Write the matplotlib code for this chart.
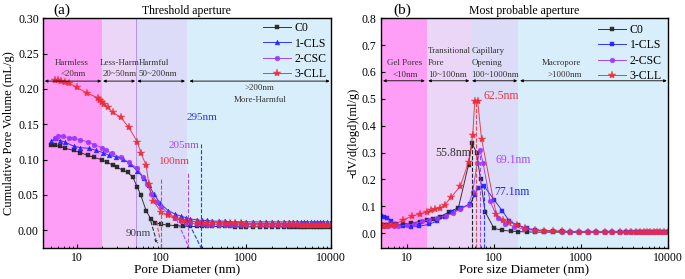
import numpy as np
import matplotlib
matplotlib.use('Agg')
import matplotlib.pyplot as plt

plt.rcParams['font.family'] = ['Liberation Serif', 'DejaVu Serif']
plt.rcParams['mathtext.fontset'] = 'stix'

# ---- (a) cumulative pore volume ----
tail_x = [220, 260, 300, 350, 400, 480, 560, 650, 750, 870, 1000, 1200, 1450, 1700, 2000,
          2400, 2800, 3200, 3600, 4000, 4400, 4800, 5300, 5800, 6300, 6900, 7500, 8200, 9000, 10000]

c0_x = [5.0, 5.5, 6.3, 7.3, 9.2, 11, 13.5, 16, 19.7, 23, 27, 30, 35, 40, 46, 52, 57, 66, 75, 84, 100,
        120, 150, 180] + tail_x
c0_y = [0.121, 0.120, 0.119, 0.116, 0.113, 0.110, 0.106, 0.103, 0.100, 0.096, 0.092, 0.089, 0.085,
        0.082, 0.075, 0.061, 0.050, 0.028, 0.016, 0.011, 0.0085, 0.0075, 0.0065, 0.006] + [0.0055] * 8 + [0.005] * 22

cls_x = [5.0, 5.5, 6.3, 7.2, 9.2, 11, 14, 17, 20.4, 24, 29, 35, 43, 52, 62, 71, 81, 97, 120, 145,
         170, 195] + tail_x
cls_y = [0.126, 0.130, 0.127, 0.125, 0.119, 0.117, 0.116, 0.113, 0.110, 0.106, 0.104, 0.101, 0.094,
         0.084, 0.074, 0.064, 0.052, 0.038, 0.028, 0.023, 0.020, 0.018] + [0.016, 0.015, 0.014, 0.014, 0.013, 0.013, 0.013, 0.012, 0.012, 0.012] + [0.012] * 20

csc_x = [5.5, 6.0, 6.8, 8.0, 9.2, 11, 13.6, 16, 19.7, 22, 26, 33, 41, 52, 60, 68, 76, 88, 100, 120,
         145, 170, 195] + tail_x
csc_y = [0.131, 0.134, 0.133, 0.131, 0.130, 0.128, 0.125, 0.121, 0.117, 0.113, 0.109, 0.103, 0.096,
         0.088, 0.076, 0.065, 0.052, 0.040, 0.033, 0.024, 0.018, 0.013, 0.011] + [0.010, 0.009, 0.009, 0.008, 0.008] + [0.008] * 25

cll_x = [5.5, 6.0, 6.5, 7.2, 8.0, 10, 13.3, 18, 19, 20, 21, 23.3, 26.5, 33, 41, 52, 57, 66, 71, 79,
         100, 120, 145, 170, 195] + tail_x
cll_y = [0.212, 0.212, 0.211, 0.210, 0.209, 0.202, 0.194, 0.187, 0.184, 0.181, 0.179, 0.174, 0.167,
         0.160, 0.146, 0.125, 0.110, 0.092, 0.066, 0.042, 0.026, 0.021, 0.017, 0.015, 0.013] + [0.012, 0.012, 0.011, 0.011, 0.011, 0.010, 0.010, 0.010, 0.010, 0.010] + [0.009] * 10 + [0.008] * 10

# ---- (b) pore size distribution ----
b_tail_x = [300, 380, 480, 600, 750, 950, 1200, 1500, 1900, 2300, 2800, 3300, 3800, 4300, 4800,
            5300, 5800, 6300, 6900, 7500, 8200, 9000, 10000]
b_tail = [0.012, 0.010, 0.008, 0.007, 0.006, 0.005, 0.005, 0.004] + [0.004] * 15

b_c0_x = [5.0, 5.5, 6.0, 7.0, 9.0, 11, 14, 17, 20, 24, 30, 39, 51, 55.8, 63, 70, 79, 100, 125, 155, 190, 240] + b_tail_x
b_c0_y = [0.030, 0.030, 0.030, 0.031, 0.034, 0.038, 0.043, 0.048, 0.053, 0.062, 0.078, 0.095, 0.255,
          0.335, 0.300, 0.200, 0.080, 0.018, 0.011, 0.008, 0.006, 0.005] + [0.004] * 23

b_cls_x = [5.0, 5.5, 5.9, 6.6, 7.4, 9.0, 11, 13.7, 17.8, 22, 27, 33, 42, 53, 60, 66, 77.1, 100, 125, 150, 190, 240] + b_tail_x
b_cls_y = [0.063, 0.062, 0.058, 0.046, 0.034, 0.026, 0.025, 0.026, 0.033, 0.045, 0.062, 0.078, 0.095,
           0.108, 0.144, 0.168, 0.175, 0.125, 0.083, 0.045, 0.030, 0.018] + b_tail

b_csc_x = [5.0, 5.5, 6.0, 7.0, 7.8, 10, 12, 15, 18, 22, 28, 34, 41, 51, 57, 64, 69.1, 75, 90, 110, 135, 170, 220] + b_tail_x
b_csc_y = [0.026, 0.026, 0.027, 0.027, 0.026, 0.030, 0.034, 0.044, 0.050, 0.057, 0.065, 0.075, 0.090,
           0.105, 0.155, 0.260, 0.310, 0.260, 0.120, 0.055, 0.035, 0.025, 0.015] + [0.010, 0.008, 0.007, 0.006, 0.005] + [0.004] * 18

b_cll_x = [5.0, 5.3, 5.7, 6.2, 6.7, 7.2, 9.0, 11.5, 14, 17, 19, 21, 24, 27, 32, 41, 51, 57, 60, 65, 72, 106, 128, 150, 185, 230] + b_tail_x
b_cll_y = [0.028, 0.028, 0.028, 0.029, 0.030, 0.031, 0.050, 0.064, 0.072, 0.080, 0.085, 0.090, 0.095,
           0.105, 0.133, 0.175, 0.265, 0.365, 0.490, 0.490, 0.350, 0.070, 0.050, 0.040, 0.030, 0.018] + [0.012, 0.010, 0.008, 0.007, 0.006, 0.005, 0.005, 0.004] + [0.004] * 15

labels = ['C0', '1-CLS', '2-CSC', '3-CLL']
colors = ['#222222', '#1f1fff', '#9933ff', '#ee2a3a']
markers_a = ['s', '^', 'o', '*']
markers_b = ['s', 's', 'o', '*']

band_colors = ['#ff9ef7', '#ecd6f7', '#dcdcf8', '#d8eefa']

fig = plt.figure(figsize=(6.85, 2.79), dpi=100)
ax1 = fig.add_axes([0.0628, 0.111, 0.420, 0.824])
ax2 = fig.add_axes([0.556, 0.111, 0.419, 0.824])


def style_axis(ax):
    ax.set_xscale('log')
    ax.tick_params(direction='in', which='both', labelsize=8.5, pad=3)
    ax.tick_params(which='major', length=3)
    ax.tick_params(which='minor', length=1.8)
    for s in ax.spines.values():
        s.set_linewidth(1.0)
    ax.xaxis.set_major_formatter(matplotlib.ticker.FuncFormatter(lambda v, p: '%d' % v))


def draw_series(ax, data, markers):
    for (x, y), lab, c, m in zip(data, labels, colors, markers):
        ms = 6 if m == '*' else 3.5
        ax.plot(x, y, marker=m, color=c, markersize=ms, linewidth=0.7, label=lab,
                markerfacecolor=c, markeredgewidth=0.3, alpha=0.9)


def double_arrow(ax, x0, x1, y):
    ax.annotate('', xy=(x0, y), xytext=(x1, y),
                arrowprops=dict(arrowstyle='<|-|>', color='black', lw=0.6,
                                mutation_scale=4, shrinkA=0, shrinkB=0))


fs = 6.4
tc = '#333333'

# ---- panel (a) ----
edges_a = [4, 20, 50, 200, 10000]
for i in range(4):
    ax1.axvspan(edges_a[i], edges_a[i + 1], color=band_colors[i], lw=0, zorder=0)
ax1.axvline(50, color='#b088ee', lw=0.6, zorder=0.5)
draw_series(ax1, [(c0_x, c0_y), (cls_x, cls_y), (csc_x, csc_y), (cll_x, cll_y)], markers_a)
style_axis(ax1)
ax1.set_xlim(4, 10000)
ax1.set_ylim(-0.025, 0.30)
ax1.set_yticks([0.0, 0.05, 0.10, 0.15, 0.20, 0.25, 0.30])
ax1.yaxis.set_major_formatter(matplotlib.ticker.FormatStrFormatter('%.2f'))
ax1.set_xlabel('Pore Diameter (nm)', fontsize=9.5, labelpad=0)
ax1.set_ylabel('Cumulative Pore Volume (mL/g)', fontsize=9, labelpad=2)
ax1.set_title('Threshold aperture', fontsize=8.5, pad=3)
fig.text(0.091, 0.965, '(a)', fontsize=11, ha='center', va='center')

ya = 0.211
double_arrow(ax1, 4.2, 19.5, ya)
double_arrow(ax1, 20.5, 49, ya)
double_arrow(ax1, 52, 190, ya)
double_arrow(ax1, 215, 9700, ya)
ax1.text(8.7, 0.236, 'Harmless', fontsize=fs, ha='center', va='center', color=tc)
ax1.text(9.0, 0.221, '<20nm', fontsize=fs, ha='center', va='center', color=tc)
ax1.text(32, 0.236, 'Less-Harm', fontsize=fs, ha='center', va='center', color=tc)
ax1.text(32, 0.221, '20~50nm', fontsize=fs, ha='center', va='center', color=tc)
ax1.text(54, 0.236, 'Harmful', fontsize=fs, ha='left', va='center', color=tc)
ax1.text(54, 0.221, '50~200nm', fontsize=fs, ha='left', va='center', color=tc)
ax1.text(1450, 0.201, '>200nm', fontsize=fs, ha='center', va='center', color=tc)
ax1.text(1450, 0.184, 'More-Harmful', fontsize=fs, ha='center', va='center', color=tc)

ax1.plot([295, 295], [-0.025, 0.122], ls='--', color='#3333ff', lw=0.8)
ax1.plot([205, 205], [-0.025, 0.083], ls='--', color='#aa44ff', lw=0.8)
ax1.plot([100, 100], [-0.025, 0.072], ls='--', color='#ee4455', lw=0.8)
ax1.plot([150, 213], [0.016, -0.025], ls='--', color='#aa44ff', lw=0.8)
ax1.plot([200, 295], [0.016, -0.025], ls='--', color='#3333ff', lw=0.8)
ax1.plot([75, 86], [0.013, -0.012], ls='--', color='#333333', lw=0.8)
ax1.plot([88, 96], [0.012, -0.012], ls='--', color='#ee4455', lw=0.8)
ax1.text(300, 0.160, '295nm', fontsize=8, color='#3333ff', ha='center', va='center')
ax1.text(186, 0.120, '205nm', fontsize=8, color='#aa44ff', ha='center', va='center')
ax1.text(94, 0.098, '100nm', fontsize=8, color='#ee3344', ha='left', va='center')
ax1.text(76, -0.0045, '90nm', fontsize=8, color='#444444', ha='right', va='center')
ax1.annotate('', xy=(79, -0.009), xytext=(95, -0.021),
             arrowprops=dict(arrowstyle='-|>', color='#333333', lw=0.5, mutation_scale=4))

ax1.legend(loc='upper right', fontsize=8.5, frameon=False, handlelength=2.4,
           handletextpad=0.3, labelspacing=0.28, borderaxespad=0.1, borderpad=0.25)

# ---- panel (b) ----
edges_b = [5, 17, 54, 190, 10000]
for i in range(4):
    ax2.axvspan(edges_b[i], edges_b[i + 1], color=band_colors[i], lw=0, zorder=0)
draw_series(ax2, [(b_c0_x, b_c0_y), (b_cls_x, b_cls_y), (b_csc_x, b_csc_y), (b_cll_x, b_cll_y)], markers_b)
style_axis(ax2)
ax2.set_xlim(5, 10000)
ax2.set_ylim(-0.055, 0.80)
ax2.set_yticks(np.arange(0, 0.81, 0.1))
ax2.yaxis.set_major_formatter(matplotlib.ticker.FormatStrFormatter('%.1f'))
ax2.set_xlabel('Pore size Diameter (nm)', fontsize=9.5, labelpad=0)
ax2.set_ylabel('-dV/d(logd)(ml/g)', fontsize=9, labelpad=2)
ax2.set_title('Most probable aperture', fontsize=8.5, pad=3)
fig.text(0.587, 0.965, '(b)', fontsize=11, ha='center', va='center')

yb = 0.567
double_arrow(ax2, 5.3, 16, yb)
double_arrow(ax2, 17.5, 52, yb)
double_arrow(ax2, 56, 185, yb)
double_arrow(ax2, 200, 9700, yb)
ax2.text(9.5, 0.633, 'Gel Pores', fontsize=fs, ha='center', va='center', color=tc)
ax2.text(9.5, 0.589, '<10nm', fontsize=fs, ha='center', va='center', color=tc)
ax2.text(17.3, 0.676, 'Transitional', fontsize=fs, ha='left', va='center', color=tc)
ax2.text(17.3, 0.633, 'Pore', fontsize=fs, ha='left', va='center', color=tc)
ax2.text(17.3, 0.589, '10~100nm', fontsize=fs, ha='left', va='center', color=tc)
ax2.text(55, 0.676, 'Capillary', fontsize=fs, ha='left', va='center', color=tc)
ax2.text(55, 0.633, 'Opening', fontsize=fs, ha='left', va='center', color=tc)
ax2.text(55, 0.589, '100~1000nm', fontsize=fs, ha='left', va='center', color=tc)
ax2.text(600, 0.633, 'Macropore', fontsize=fs, ha='center', va='center', color=tc)
ax2.text(650, 0.589, '>1000nm', fontsize=fs, ha='center', va='center', color=tc)

ax2.plot([55.8, 55.8], [-0.055, 0.335], ls='--', color='#222222', lw=0.8)
ax2.plot([62.5, 62.5], [-0.055, 0.49], ls='--', color='#ee4455', lw=0.8)
ax2.plot([69.1, 69.1], [-0.055, 0.31], ls='--', color='#aa44ff', lw=0.8)
ax2.plot([77.1, 77.1], [-0.055, 0.175], ls='--', color='#3333ff', lw=0.8)
ax2.text(76, 0.51, '62.5nm', fontsize=8.5, color='#ee3344', ha='left', va='center')
ax2.text(54, 0.30, '55.8nm', fontsize=8.5, color='#333333', ha='right', va='center')
ax2.text(104, 0.272, '69.1nm', fontsize=8.5, color='#aa44ff', ha='left', va='center')
ax2.text(101, 0.155, '77.1nm', fontsize=8.5, color='#2222ff', ha='left', va='center')

ax2.legend(loc='upper right', fontsize=8.5, frameon=False, handlelength=2.4,
           handletextpad=0.3, labelspacing=0.28, borderaxespad=0.1, borderpad=0.4)

fig.savefig('out.png', dpi=100)
